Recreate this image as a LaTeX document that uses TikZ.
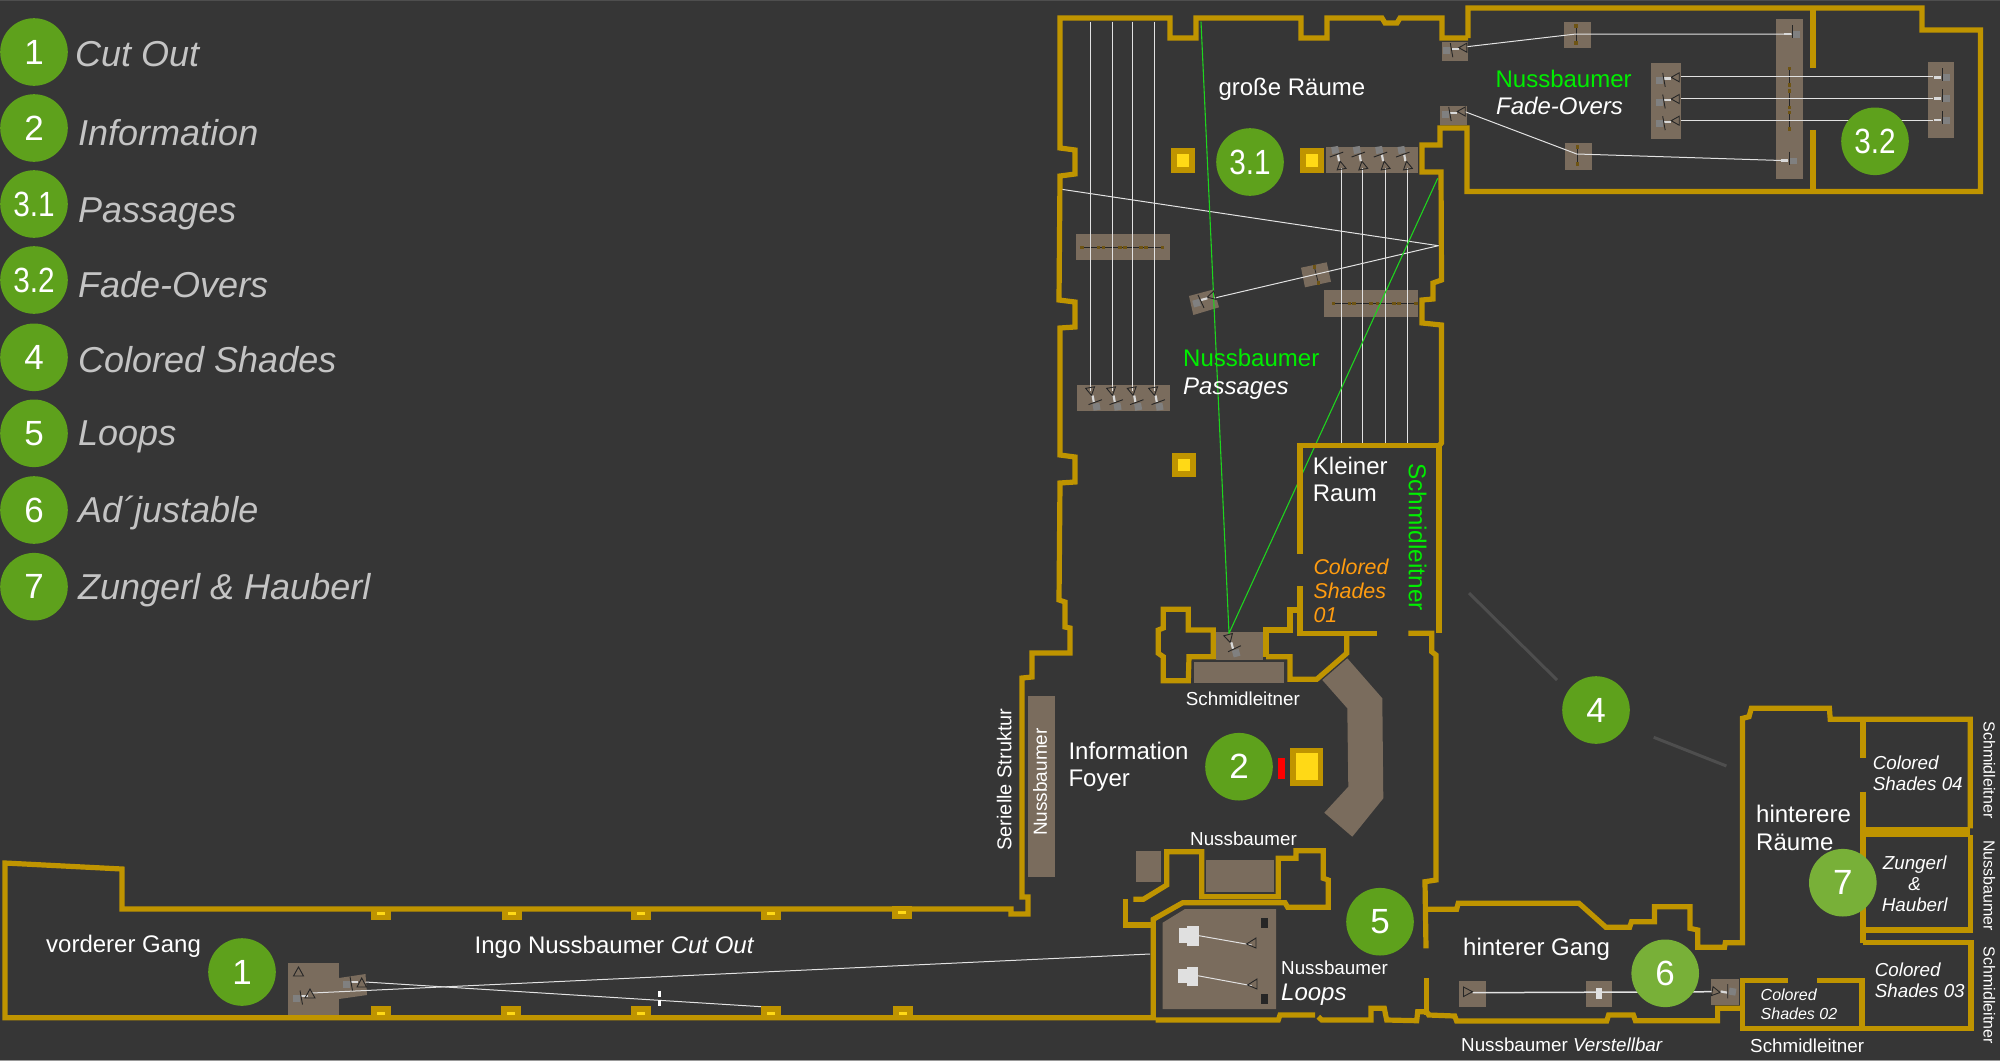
\documentclass[tikz,border=0pt]{standalone}
\usepackage{fontspec}
\setmainfont{Liberation Sans}
\definecolor{bgcol}{HTML}{363636}
\definecolor{wallcol}{HTML}{BF9400}
\definecolor{lampcol}{HTML}{FFD916}
\definecolor{standcol}{HTML}{7A6C5D}
\definecolor{grncol}{HTML}{5EA11C}
\definecolor{lgrncol}{HTML}{78B038}
\definecolor{beamcol}{HTML}{E2E2E2}
\definecolor{laser}{HTML}{1ED41E}
\definecolor{gruen}{HTML}{00EE00}
\definecolor{orng}{HTML}{FF9C10}
\definecolor{legcol}{HTML}{C4C4C4}
\definecolor{mirrcol}{HTML}{6E5414}
\definecolor{unitcol}{HTML}{262626}
\tikzset{
  wall/.style={draw=wallcol,line width=5.2pt,line join=miter},
  stand/.style={fill=standcol},
  beam/.style={draw=beamcol,line width=1pt},
  greenbeam/.style={draw=laser,line width=1.1pt},
  mirrline/.style={draw=unitcol,line width=.8pt},
  unitline/.style={draw=unitcol,line width=.9pt},
  num/.style={circle,fill=grncol,text=white,minimum size=67.6pt,inner sep=0pt,font=\fontsize{35}{35}\selectfont},
  numl/.style={num,fill=lgrncol},
  leg/.style={anchor=base west,inner sep=0pt,text=legcol,font=\fontsize{36}{36}\selectfont\itshape},
  lab/.style={anchor=base west,inner sep=0pt,text=white,font=\fontsize{24}{24}\selectfont},
  labit/.style={lab,font=\fontsize{24}{24}\selectfont\itshape},
  smalllab/.style={lab,font=\fontsize{18.8}{18.8}\selectfont},
  smallit/.style={lab,font=\fontsize{18.8}{18.8}\selectfont\itshape},
  tinyit/.style={lab,font=\fontsize{16}{16}\selectfont\itshape},
  sidelab/.style={inner sep=0pt,text=white,rotate=-90,font=\fontsize{16}{16}\selectfont},
  pillar/.pic={
    \fill [wallcol] (-12.3,-12.3) rectangle (12.3,12.3);
    \fill [lampcol] (-6.3,-6.3) rectangle (6.3,6.3);
  },
  tabtop/.pic={
    \fill [wallcol] (-10,-2) rectangle (10,11);
    \fill [lampcol] (-4,3) rectangle (4,6);
  },
  tabbot/.pic={
    \fill [wallcol] (-10,-11) rectangle (10,2);
    \fill [lampcol] (-4,-5.5) rectangle (4,-2.5);
  },
  projbody/.pic={
    \fill [white!85!black] (-11.6,0) rectangle (-4.8,2.2);
    \fill [gray] (-20,-.5) rectangle (-13,6.5);
    \draw [unitline] (-13,-4.5) -- (-10.5,9.5);
  },
  projector/.pic={
    \draw [unitline] (-4.5,0) -- (3.5,-4.5) -- (3.5,4.5) -- cycle;
    \fill [white!85!black] (-11.6,0) rectangle (-4.8,2.2);
    \fill [gray] (-20,-.5) rectangle (-13,6.5);
    \draw [unitline] (-13,-4.5) -- (-10.5,9.5);
  },
  receiver/.pic={
    \fill [white!85!black] (-7,-1.3) rectangle (0,1.3);
    \fill [gray] (2,-3) rectangle (9,3.5);
    \draw [unitline] (1,-9) -- (1,4);
  },
  mirror/.pic={
    \fill [mirrcol] (-1.8,-1.8) rectangle (1.8,1.8);
  }
}
\begin{document}
\begin{tikzpicture}[x=1pt,y=-1pt]
\useasboundingbox (0,0) rectangle (2000,1061);
\fill [bgcol] (0,0) rectangle (2000,1061);
\draw [black!40!white,line width=1pt] (0,1060.5) -- (2000,1060.5);
\draw [white!12!bgcol,line width=1pt] (0,.5) -- (2000,.5);

% stands
\fill [stand] (1325.7,147) rectangle (1418.3,173.3);
\fill [stand] (1077,385) rectangle (1170,411.3);
\fill [stand] (1076,234) rectangle (1170,260.3);
\fill [stand] (1324.3,290) rectangle (1417.7,316.7);
\fill [stand] (1301,267.7) -- (1326.7,262.3) -- (1331,281.7) -- (1305,287.3) -- cycle;
\fill [stand] (1189,296) -- (1214,289.3) -- (1219,307.3) -- (1193.3,315) -- cycle;
\fill [stand] (1441.7,41.7) rectangle (1468.3,60.7);
\fill [stand] (1440,105.7) rectangle (1466.7,125);
\fill [stand] (1564,21.7) rectangle (1591,48.3);
\fill [stand] (1565,143) rectangle (1591.8,170);
\fill [stand] (1651,62.7) rectangle (1681.4,139.3);
\fill [stand] (1775.7,19.3) rectangle (1802.5,179.3);
\fill [stand] (1927.5,62) rectangle (1954,138.3);
\fill [stand] (1216,631.7) rectangle (1262.7,660);
\fill [stand] (1194,661.7) rectangle (1284,682.7);
\fill [stand] (1347.3,658.3) -- (1382.3,698.3) -- (1383.3,798.3) -- (1352.3,836.7) -- (1324.3,812.7) -- (1348.3,786.7) -- (1347.3,708.3) -- (1322.3,680) -- cycle;
\fill [stand] (1027.7,695.7) rectangle (1054.7,877.3);
\fill [stand] (1136,851) rectangle (1161,881.7);
\fill [stand] (1206,860) rectangle (1274.3,891.7);
\fill [stand] (1162.7,922.7) -- (1185,909) -- (1276,909) -- (1276,1009) -- (1162.7,1009) -- cycle;
\fill [stand] (288,963) rectangle (339,1015);
\fill [stand] (339,978) -- (365.5,974) -- (367,995) -- (339,999) -- cycle;
\fill [stand] (1459.3,980.7) rectangle (1486,1006.7);
\fill [stand] (1585.6,980.7) rectangle (1612.4,1006.7);
\fill [stand] (1711,978.7) rectangle (1738.7,1005);

% mirrors
\draw [mirrline] (1081.7,247.3) -- (1162.3,247.3);
\pic at (1081.7,247.3) {mirror};
\pic at (1098.3,247.3) {mirror};
\pic at (1103.3,247.3) {mirror};
\pic at (1120,247.3) {mirror};
\pic at (1125,247.3) {mirror};
\pic at (1141,247.3) {mirror};
\pic at (1146,247.3) {mirror};
\pic at (1162.3,247.3) {mirror};
\draw [mirrline] (1333.3,303.3) -- (1415.7,303.3);
\pic at (1333.3,303.3) {mirror};
\pic at (1349.3,303.3) {mirror};
\pic at (1354,303.3) {mirror};
\pic at (1370.7,303.3) {mirror};
\pic at (1377.3,303.3) {mirror};
\pic at (1394,303.3) {mirror};
\pic at (1399,303.3) {mirror};
\pic at (1415.7,303.3) {mirror};
\draw [mirrline] (1314.3,266.7) -- (1318.3,282.7);
\pic at (1314.3,266.7) {mirror};
\pic at (1318.3,282.7) {mirror};
\draw [mirrline] (1576,25.7) -- (1576,42.7);
\pic at (1576,25.7) {mirror};
\pic at (1576,42.7) {mirror};
\draw [mirrline] (1577.5,146.7) -- (1577.5,163.7);
\pic at (1577.5,146.7) {mirror};
\pic at (1577.5,163.7) {mirror};
\draw [mirrline] (1789.6,68.3) -- (1789.6,85);
\draw [mirrline] (1789.6,90.7) -- (1789.6,107.3);
\draw [mirrline] (1789.6,112.3) -- (1789.6,129);
\pic at (1789.6,68.3) {mirror};
\pic at (1789.6,85) {mirror};
\pic at (1789.6,90.7) {mirror};
\pic at (1789.6,107.3) {mirror};
\pic at (1789.6,112.3) {mirror};
\pic at (1789.6,129) {mirror};

% beams
\draw [beam] (1090.3,21.7) -- (1090.3,391);
\draw [beam] (1112,21.7) -- (1112,391);
\draw [beam] (1132.7,21.7) -- (1132.7,391);
\draw [beam] (1154,21.7) -- (1154,391);
\draw [beam] (1341.7,168) -- (1341.7,443);
\draw [beam] (1362.7,168) -- (1362.7,443);
\draw [beam] (1385,168) -- (1385,443);
\draw [beam] (1407.7,168) -- (1407.7,443);
\draw [beam] (1213.3,298.3) -- (1438.3,245.7) -- (1061.7,189.3);
\draw [greenbeam] (1201,21.7) -- (1229,633.3) -- (1437.7,178.3);
\draw [beam] (1466.8,46.7) -- (1576,34) -- (1792,34);
\draw [beam] (1465,111.7) -- (1576.8,154) -- (1788,160.7);
\draw [beam] (1681,76.7) -- (1933,76.7);
\draw [beam] (1681,98.7) -- (1933,98.7);
\draw [beam] (1681,120) -- (1933,120);
\draw [beam] (312,993) -- (1150,954);
\draw [beam] (365.5,982) -- (761.6,1006.7);
\draw [beam] (1199,935.7) -- (1251.7,945);
\draw [beam] (1197.7,975.7) -- (1251.7,985.7);
\draw [beam,line width=1.5pt] (1472.7,992.7) -- (1712,991.7);
\draw [white,line width=2.5pt,dash pattern=on 6pt off 3pt] (659.6,990.7) -- (659.6,1006);
\draw [white!12!bgcol,line width=3pt] (1469,593) -- (1557,680);
\draw [white!12!bgcol,line width=3pt] (1653.7,737.3) -- (1726.4,766);

% projectors
\pic at (1341,165.7) [rotate=-80] {projector};
\pic at (1362.7,165.7) [rotate=-80] {projector};
\pic at (1385,165.7) [rotate=-80] {projector};
\pic at (1407.3,165.7) [rotate=-80] {projector};
\pic at (1090.7,391) [rotate=100] {projector};
\pic at (1111.7,391) [rotate=100] {projector};
\pic at (1132.3,391) [rotate=100] {projector};
\pic at (1153.7,391) [rotate=100] {projector};
\pic at (1211.7,296) [rotate=15] {projector};
\pic at (1463.3,47.7) {projector};
\pic at (1461.7,111.5) {projector};
\pic at (1675.7,77.3) {projector};
\pic at (1675.7,99) {projector};
\pic at (1675.7,120.7) {projector};
\pic at (1229,638) [rotate=105] {projector};
\pic at (1715.7,991.7) [rotate=170] {projector};
\pic at (313,995) {projbody};
\pic at (363,981) {projbody};
\draw [unitline] (298.5,967) -- (293.5,976) -- (303.5,976) -- cycle;
\draw [unitline] (310,989) -- (305,998) -- (315,998) -- cycle;
\draw [unitline] (361.7,978) -- (357,987) -- (366.5,987) -- cycle;
\draw [unitline] (1472.5,991.7) -- (1463.5,987) -- (1463.5,996.5) -- cycle;
\draw [unitline] (1246.5,944) -- (1256,938) -- (1256,948) -- cycle;
\draw [unitline] (1247.5,985) -- (1257,979) -- (1257,989) -- cycle;
\pic at (1791,34) {receiver};
\pic at (1788,160.7) {receiver};
\pic at (1941,77.3) {receiver};
\pic at (1941,98.3) {receiver};
\pic at (1941,120) {receiver};

% loops stand details
\fill [unitcol] (1261,918.3) rectangle (1268.3,927.7);
\fill [unitcol] (1261,994) rectangle (1268.3,1004);
\fill [white!88!black] (1179.3,928.3) rectangle (1187.3,942.7);
\fill [white!88!black] (1187.3,925.7) rectangle (1199,945.7);
\fill [white!88!black] (1178.3,969.3) rectangle (1186.7,983.3);
\fill [white!88!black] (1186.7,966.7) rectangle (1197.7,986);
\fill [white!88!black] (1596,987.7) rectangle (1602,999);

% walls
\draw [wall] (1468,38) -- (1442,38) -- (1442,18) -- (1400,18) -- (1397,23) -- (1385,23) -- (1382,18) -- (1327,18) -- (1327,38) -- (1301,38) -- (1301,18) -- (1196,18) -- (1196,38) -- (1170,38) -- (1170,18) -- (1060,18) -- (1060,148) -- (1075,150) -- (1075,174) -- (1060,176) -- (1059,300) -- (1075,302) -- (1075,327) -- (1060,328) -- (1060,455) -- (1075,457) -- (1075,482) -- (1060,483) -- (1059,600) -- (1065,602) -- (1065,627) -- (1070,628) -- (1070,653) -- (1032,653) -- (1032,677) -- (1022,678) -- (1022,897) -- (1028,897) -- (1028,914) -- (1011,914) -- (1011,909) -- (122,909) -- (122,869) -- (5,863) -- (5,1017.7) -- (1153.3,1017.7) -- (1153.3,919.3) -- (1182.7,902.7) -- (1285,902.7) -- (1287.7,907.3) -- (1328.3,907.3) -- (1328.3,880) -- (1323.3,878.3) -- (1323.3,850.7) -- (1296,850.7) -- (1296,858.3) -- (1278.3,858.3) -- (1278.3,896.7) -- (1201.7,896.7) -- (1201.7,851.7) -- (1166.7,851.7) -- (1166.7,885) -- (1143.3,899.3) -- (1133.3,899.3);
\draw [wall] (1125.7,899.3) -- (1125.7,925) -- (1153.3,925);
\draw [wall] (1155.7,1020) -- (1278.3,1020) -- (1280,1015) -- (1315,1015);
\draw [wall] (1318.3,1016.7) -- (1321.7,1020) -- (1371,1020) -- (1371,1008.3) -- (1384.3,1008.3) -- (1386.7,1020) -- (1416.7,1020.7) -- (1417.7,1011.7) -- (1426.7,1011.7) -- (1428.7,1015) -- (1454.7,1016) -- (1456.6,1021) -- (1606.7,1021) -- (1608.6,1015) -- (1633.4,1015) -- (1635.4,1020.7) -- (1717.6,1020.7) -- (1717.6,1008.3) -- (1742.5,1008.3);
\draw [wall] (1426.5,978) -- (1426.5,1015);
\draw [wall] (1468,38) -- (1468,8) -- (1922,8) -- (1922,30) -- (1980.5,30) -- (1980.5,191.5) -- (1467,191.5) -- (1467,128) -- (1440,128) -- (1440,145) -- (1422,145) -- (1422,172) -- (1441,172) -- (1441.5,280) -- (1433,283) -- (1433,299) -- (1422,300) -- (1422,323) -- (1441.5,325) -- (1441.5,443) -- (1439,445.7);
\draw [wall] (1813,8) -- (1813,68);
\draw [wall] (1813,130) -- (1813,191);
\draw [wall] (1439,445.7) -- (1300,445.7) -- (1300,554);
\draw [wall] (1300,586) -- (1300,633.3) -- (1376.7,633.3);
\draw [wall] (1439,445.7) -- (1439,633.3);
\draw [wall] (1408.3,633.3) -- (1431.7,633.3) -- (1431.7,651.7) -- (1436,655) -- (1436,880) -- (1425,881.7) -- (1426,948.3);
\draw [wall] (1300,610) -- (1290,610) -- (1290,630) -- (1266,630) -- (1266,656.7);
\draw [wall] (1194,656.7) -- (1189,656.7) -- (1188.3,680.7) -- (1163.3,680.7) -- (1163.3,656.7) -- (1158.3,653.3) -- (1158.3,630) -- (1163.3,628) -- (1163.3,609.3) -- (1188.3,609.3) -- (1188.3,630) -- (1213.3,630) -- (1213.3,656.7) -- (1189,656.7);
\draw [wall] (1266,656.7) -- (1290,656.7) -- (1290,679.3) -- (1316.7,679.3) -- (1346.7,653.3) -- (1346.7,633.3);
\draw [wall] (1426,909.3) -- (1456.6,909.3) -- (1458.2,903.3) -- (1579,903.3) -- (1605.9,927.3) -- (1629.6,927.3) -- (1631.5,921.7) -- (1654.5,921.7) -- (1654.5,906.7) -- (1690,906.7) -- (1690,928.3) -- (1697.7,930) -- (1697.7,947.3) -- (1724.5,947.3) -- (1725.3,942.7) -- (1742.5,942.7) -- (1742.5,718.3) -- (1749,716.7) -- (1751.3,708.3) -- (1829.4,708.3) -- (1830.2,719.3) -- (1970.2,719.3) -- (1970.2,828.3);
\draw [wall,line width=10pt] (1865,831.7) -- (1970.2,831.7);
\draw [wall] (1970.2,835) -- (1970.2,930) -- (1863,930);
\draw [wall] (1863,719.3) -- (1863,758.3);
\draw [wall,line width=6pt] (1863,791.7) -- (1863,943);
\draw [wall] (1863,942.7) -- (1971,942.7) -- (1971,1028.3) -- (1742.5,1028.3) -- (1742.5,980.7) -- (1788.4,980.7);
\draw [wall] (1817,980.7) -- (1862,980.7) -- (1862,1028.3);

% lamps
\pic at (1183,160.3) {pillar};
\pic at (1312,160.3) {pillar};
\pic at (1184,465) {pillar};
\fill [wallcol] (1290,747.7) rectangle (1322.7,785.7);
\fill [lampcol] (1295.7,753) rectangle (1317.7,780);
\fill [red] (1277.7,757.7) rectangle (1285.3,779);
\pic at (381,909) {tabtop};
\pic at (512,909) {tabtop};
\pic at (641,909) {tabtop};
\pic at (771,909) {tabtop};
\pic at (902,908) {tabtop};
\pic at (381,1017) {tabbot};
\pic at (511,1017) {tabbot};
\pic at (641,1017) {tabbot};
\pic at (771,1017) {tabbot};
\pic at (903,1017) {tabbot};

% legend
\node (leg1) at (34,52) [num] {1};
\node (leg2) at (34,128) [num] {2};
\node (leg31) at (34,204) [num] {\scalebox{.85}[1]{3.1}};
\node (leg32) at (34,280) [num] {\scalebox{.85}[1]{3.2}};
\node (leg4) at (34,357.3) [num] {4};
\node (leg5) at (34,433.3) [num] {5};
\node (leg6) at (34,510) [num] {6};
\node (leg7) at (34,586.7) [num] {7};
\node (cutout) at (75,66) [leg] {Cut Out};
\node (inform) at (78,145) [leg] {Information};
\node (passag) at (78,222) [leg] {Passages};
\node (fadeov) at (78,297) [leg] {Fade-Overs};
\node (colsha) at (78,372.3) [leg] {Colored Shades};
\node (loopsl) at (78,445) [leg] {Loops};
\node (adjust) at (78,522.3) [leg] {Ad´justable};
\node (zungha) at (78,599.3) [leg] {Zungerl \& Hauberl};

% map numbers
\node (mapone) at (242,972) [num] {1};
\node (maptwo) at (1239,766.7) [num] {2};
\node (mapthreeone) at (1250,162) [num] {\scalebox{.85}[1]{3.1}};
\node (mapthreetwo) at (1875,141.3) [num] {\scalebox{.85}[1]{3.2}};
\node (mapfour) at (1596,710) [num] {4};
\node (mapfive) at (1380,921.7) [num] {5};
\node (mapsix) at (1665.2,973.3) [numl] {6};
\node (mapseven) at (1842.8,882.7) [numl] {7};

% labels
\node (grossr) at (1218.3,95) [lab] {große Räume};
\node (nussfo) at (1495.4,87.3) [lab,text=gruen] {Nussbaumer};
\node (fadefo) at (1496,114) [labit] {Fade-Overs};
\node (nusspa) at (1183,366.7) [lab,text=gruen] {Nussbaumer};
\node (passpa) at (1183,394) [labit] {Passages};
\node (kleinr) at (1312.7,474) [lab] {Kleiner};
\node (raumkl) at (1312.7,501.7) [lab] {Raum};
\node (colone) at (1313.3,574) [labit,text=orng,font=\fontsize{21.4}{21.4}\selectfont\itshape] {Colored};
\node (shaone) at (1313.3,598) [labit,text=orng,font=\fontsize{21.4}{21.4}\selectfont\itshape] {Shades};
\node (zeroon) at (1313.3,622.7) [labit,text=orng,font=\fontsize{21.4}{21.4}\selectfont\itshape] {01};
\node (schmgr) at (1417.7,537) [inner sep=0pt,rotate=-90,text=gruen,font=\fontsize{24.4}{24.4}\selectfont] {Schmidleitner};
\node (schmfo) at (1185.7,705) [smalllab] {Schmidleitner};
\node (infofo) at (1068.3,759.3) [lab] {Information};
\node (foyerf) at (1068.3,786.7) [lab] {Foyer};
\node (seriel) at (1004.3,779.5) [inner sep=0pt,rotate=90,text=white,font=\fontsize{20}{20}\selectfont] {Serielle Struktur};
\node (nussvt) at (1040,782) [inner sep=0pt,rotate=90,text=white,font=\fontsize{19}{19}\selectfont] {Nussbaumer};
\node (nussmd) at (1190,845) [smalllab] {Nussbaumer};
\node (nussll) at (1281,974.3) [smalllab] {Nussbaumer};
\node (loopsm) at (1281,1000.7) [labit] {Loops};
\node (vorder) at (46,952.3) [lab] {vorderer Gang};
\node (ingonu) at (474.5,953.3) [lab] {Ingo Nussbaumer \textit{Cut Out}};
\node (hinger) at (1463,955) [lab] {hinterer Gang};
\node (nussve) at (1461,1051.7) [smalllab] {Nussbaumer \textit{Verstellbar}};
\node (schmbo) at (1750,1052.3) [smalllab] {Schmidleitner};
\node (hintrr) at (1756,822.7) [lab] {hinterere};
\node (raeume) at (1756,850) [lab] {Räume};
\node (colfou) at (1872.6,769.3) [smallit] {Colored};
\node (shafou) at (1872.6,790.7) [smallit] {Shades 04};
\node (zunger) at (1914.7,869.3) [smallit,anchor=base] {Zungerl};
\node (undamp) at (1914.7,890) [smallit,anchor=base] {\&};
\node (hauber) at (1914.7,911.7) [smallit,anchor=base] {Hauberl};
\node (colthr) at (1874.6,976.7) [smallit] {Colored};
\node (shathr) at (1874.6,997.7) [smallit] {Shades 03};
\node (coltwo) at (1760.5,1000) [tinyit] {Colored};
\node (shatwo) at (1760.5,1019) [tinyit] {Shades 02};
\node (sideon) at (1989.4,770) [sidelab] {Schmidleitner};
\node (sidetw) at (1989.4,885.7) [sidelab] {Nussbaumer};
\node (sideth) at (1989.4,995.3) [sidelab] {Schmidleitner};
\end{tikzpicture}
\end{document}
